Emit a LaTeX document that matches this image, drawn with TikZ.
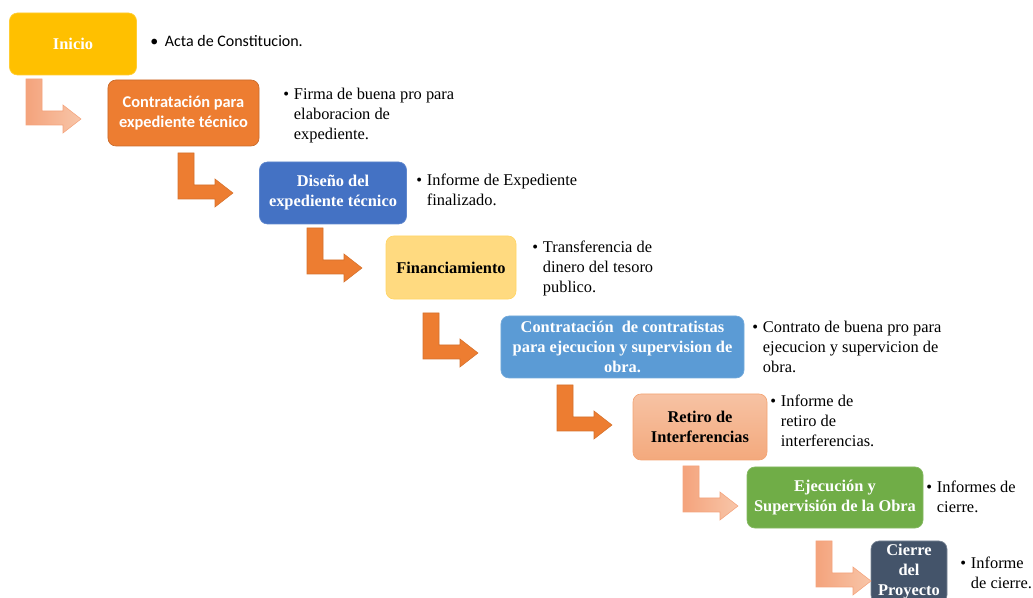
\documentclass[tikz,border=0pt]{standalone}
\usepackage{fontspec}
\usepackage{xcolor}
\setmainfont{Liberation Serif}
\newfontfamily\calibri{Carlito}

\definecolor{oro}{HTML}{FFC000}
\definecolor{naranja}{HTML}{ED7D31}
\definecolor{azul}{HTML}{4472C4}
\definecolor{oroclaro}{HTML}{FFDA80}
\definecolor{celeste}{HTML}{5B9BD5}
\definecolor{salmon}{HTML}{F4AE85}
\definecolor{verde}{HTML}{70AD47}
\definecolor{pizarra}{HTML}{44546A}
\definecolor{durazno}{HTML}{F4A37C}
\definecolor{duraznoclaro}{HTML}{F8C6A9}

% lista con vineta: primera linea tras la vineta, las demas con "& "
\newcommand{\lista}[1]{\begin{tabular}[t]{@{}p{8pt}@{}l@{}}\textbullet & #1\end{tabular}}

\tikzset{
  etapa/.style={rounded corners=6pt, inner sep=2pt, align=center, line width=0.5pt,
    font=\fontsize{12.3}{15}\selectfont\bfseries, text=white},
  nota/.style={anchor=base west, inner sep=0pt,
    font=\fontsize{12.3}{15}\selectfont},
  flecha/.style={fill=naranja, draw=naranja!90!black, line width=0.4pt},
  flechaclara/.style={left color=durazno, right color=duraznoclaro, draw=durazno, line width=0.4pt}
}

% flecha doblada: estilo, esquina superior izquierda
\newcommand{\codo}[2]{%
  \draw[#1, shift={#2}] (0,0) -- (16,0) -- (16,32) -- (37,32) -- (37,26)
    -- (55,40) -- (37,54) -- (37,46) -- (0,46) -- cycle;}

\begin{document}
\begin{tikzpicture}[x=0.75pt,y=-0.75pt]
\useasboundingbox (0,0) rectangle (1033,598);

% etapas
\node[etapa, fill=oro, draw=oro!80!white, minimum width=95.3pt, minimum height=46.5pt]
  (inicio) at (73,44) {Inicio};
\node[etapa, fill=naranja, draw=naranja!85!black, minimum width=113.3pt, minimum height=49.5pt,
  font=\calibri\fontsize{12.3}{15}\selectfont\bfseries]
  (contrato) at (183.5,113) {Contratación para\\expediente técnico};
\node[etapa, fill=azul, draw=azul!85!white, minimum width=110.3pt, minimum height=46.5pt]
  (diseno) at (333,193) {Diseño del\\expediente técnico};
\node[etapa, fill=oroclaro, draw=oroclaro!80!oro, text=black, minimum width=97.5pt, minimum height=47.3pt]
  (financ) at (451,267.5) {Financiamiento};
\node[etapa, fill=celeste, draw=celeste!85!white, minimum width=182.3pt, minimum height=46.5pt]
  (contratistas) at (622.5,347) {Contratación \ de contratistas\\para ejecucion y supervision de\\obra.};
\node[etapa, top color=salmon!75!white, bottom color=salmon!90!naranja, draw=salmon!80!naranja,
  text=black, minimum width=100.5pt, minimum height=49.5pt]
  (retiro) at (700,427) {Retiro de\\Interferencias};
\node[etapa, fill=verde, draw=verde!85!white, minimum width=132pt, minimum height=45.8pt]
  (ejecucion) at (835,497.5) {Ejecución y\\Supervisión de la Obra};
\node[etapa, fill=pizarra, draw=pizarra!70!white, minimum width=57pt, minimum height=46.5pt]
  (cierre) at (909,572) {Cierre\\del\\Proyecto};

% notas
\node[nota, font=\calibri\fontsize{12}{15}\selectfont] (n1) at (150,47)
  {\textbullet\hspace{5pt}Acta de Constitucion.};
\node[nota] (n2) at (283,100) {\lista{Firma de buena pro para\\ & elaboracion de\\ & expediente.}};
\node[nota] (n3) at (416,186) {\lista{Informe de Expediente\\ & finalizado.}};
\node[nota] (n4) at (532,253) {\lista{Transferencia de\\ & dinero del tesoro\\ & publico.}};
\node[nota] (n5) at (752,333) {\lista{Contrato de buena pro para\\ & ejecucion y supervicion de\\ & obra.}};
\node[nota] (n6) at (770,407) {\lista{Informe de\\ & retiro de\\ & interferencias.}};
\node[nota] (n7) at (926,493) {\lista{Informes de\\ & cierre.}};
\node[nota] (n8) at (960,569) {\lista{Informe\\ & de cierre.}};

% flechas
\codo{flechaclara}{(26,79)}
\codo{flecha}{(178,153)}
\codo{flecha}{(307,228)}
\codo{flecha}{(423,313)}
\codo{flecha}{(557,385)}
\codo{flechaclara}{(683,466)}
\codo{flechaclara}{(816,541)}
\end{tikzpicture}
\end{document}
